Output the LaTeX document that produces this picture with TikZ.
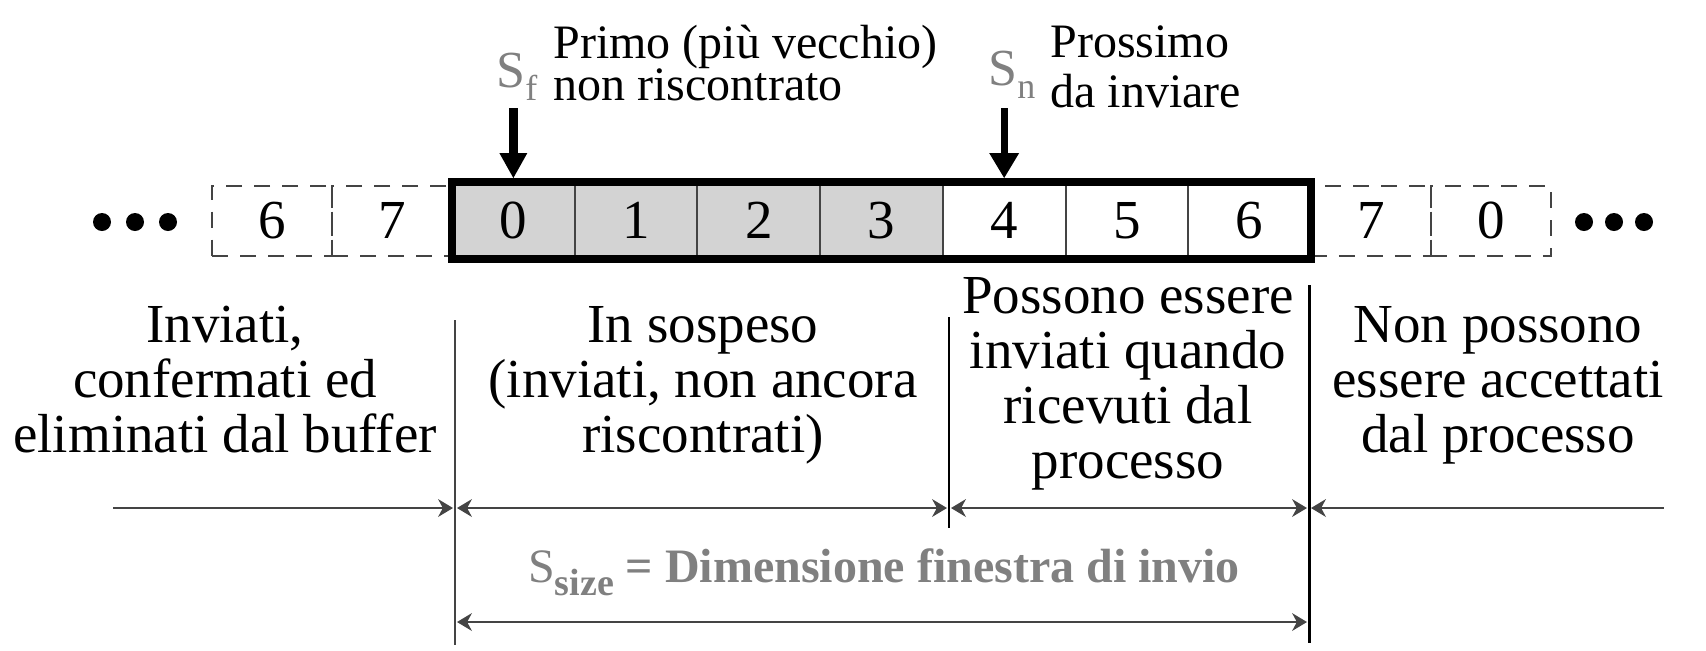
\documentclass[tikz,border=0pt]{standalone}
\usepackage{fontspec}
\setmainfont{Liberation Serif}
\usetikzlibrary{positioning, arrows.meta, calc}

\definecolor{labelgray}{HTML}{808080}
\definecolor{cellgray}{HTML}{D3D3D3}
\definecolor{linegray}{HTML}{444444}

% letter with a lowered, smaller index
\newcommand{\lowsub}[3][18]{#2\raisebox{-6.5pt}{\fontsize{#1}{#1}\selectfont #3}}

\tikzset{
    slot/.style={draw=linegray, line width=1pt, minimum width=61.35pt, minimum height=38.5pt,
        inner sep=0pt, outer sep=0pt, font=\fontsize{27.5}{27.5}\selectfont},
    oldslot/.style={slot, dash pattern=on 8pt off 6pt, minimum width=60pt, minimum height=35pt},
    seqlabel/.style={text=labelgray, inner sep=0pt, font=\fontsize{26}{26}\selectfont},
    note/.style={align=left, inner sep=0pt},
    region/.style={align=center, inner sep=0pt, font=\fontsize{27.5}{27.5}\selectfont},
    divider/.style={draw=linegray, line width=1pt},
    extent/.style={draw=linegray, line width=1.2pt, shorten <=1pt, shorten >=1pt},
    tip/.tip={Stealth[length=7.5pt, width=9pt, line width=0pt]},
}

\begin{document}
\setlength{\lineskiplimit}{-20pt}
\begin{tikzpicture}[x=0.5pt, y=-0.5pt]
    \useasboundingbox (0,0) rectangle (1706,650);

    % sending window
    \node [slot, fill=cellgray] (w0) at (513.35,220.5) {0};
    \foreach \d/\col [remember=\d as \prev (initially 0)] in {1/cellgray, 2/cellgray, 3/cellgray, 4/white, 5/white, 6/white} {
        \node [slot, fill=\col, right=0pt of w\prev] (w\d) {\d};
    }
    \node [oldslot, left=0pt of w0] (g7l) {7};
    \node [oldslot, left=0pt of g7l] (g6l) {6};
    \node [oldslot, right=0pt of w6] (g7r) {7};
    \node [oldslot, right=0pt of g7r] (g0r) {0};
    \draw [line width=4pt] (w0.north west) rectangle (w6.south east);

    \foreach \x in {102, 135, 168, 1584, 1614, 1644} {
        \fill (\x,222) circle (4.5pt);
    }

    % pointers
    \node [seqlabel, anchor=base] (sf) at (517,87) {\lowsub{S}{f}};
    \node [seqlabel, anchor=base] (sn) at (1012,85) {\lowsub{S}{n}};
    \node [note, anchor=south west, font=\fontsize{24}{21}\selectfont] (sfnote) at (553,101) {Primo (più vecchio)\\non riscontrato};
    \node [note, anchor=south west, font=\fontsize{24}{25}\selectfont] (snnote) at (1050,108) {Prossimo\\da inviare};
    \draw [line width=4.5pt, -{Triangle[width=14pt, length=12.5pt, line width=0pt]}, shorten <=4pt, shorten >=2pt] (sf.south -| w0.north) -- (w0.north);
    \draw [line width=3.5pt, -{Triangle[width=15pt, length=12.5pt, line width=0pt]}, shorten <=5pt, shorten >=2pt] (sn.south -| w4.north) -- (w4.north);

    % regions
    \node [region, anchor=base] (done) at (225,452) {Inviati,\\confermati ed\\eliminati dal buffer};
    \node [region, anchor=base] (pending) at (703,452) {In sospeso\\(inviati, non ancora\\riscontrati)};
    \node [region, anchor=base] (usable) at (1128,478) {Possono essere\\inviati quando\\ricevuti dal\\processo};
    \node [region, anchor=base] (blocked) at (1498,452) {Non possono\\essere accettati\\dal processo};

    \draw [divider] (455,320) -- (455,645);
    \draw [divider, draw=black] (949,317) -- (949,528);
    \draw [divider, draw=black, line width=1.5pt] (1309,285) -- (1309,643);

    \coordinate (lstart) at (111,508);
    \coordinate (m1) at (455,508);
    \coordinate (m2) at (949,508);
    \coordinate (m3) at (1309,508);
    \coordinate (rend) at (1666,508);
    \draw [extent, -tip] (lstart) -- (m1);
    \draw [extent, tip-tip] (m1) -- (m2);
    \draw [extent, tip-tip] (m2) -- (m3);
    \draw [extent, tip-] (m3) -- (rend);

    \coordinate (wl) at (455,622);
    \coordinate (wr) at (1309,622);
    \draw [extent, tip-tip] (wl) -- (wr);
    \node [seqlabel, font=\fontsize{24}{24}\selectfont, anchor=base] (ssize) at (884,582)
        {\lowsub[19]{S}{\bfseries size} \textbf{= Dimensione finestra di invio}};
\end{tikzpicture}
\end{document}
